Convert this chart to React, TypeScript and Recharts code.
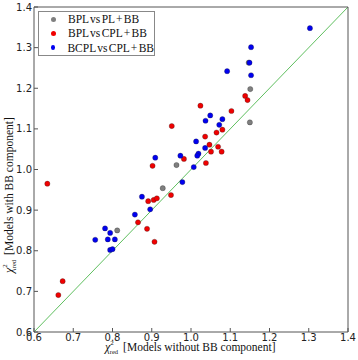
import React from "react";
import { ScatterChart, Scatter, XAxis, YAxis, ReferenceLine } from "recharts";

// axis ticks (same on both axes)
const TICKS = [0.6, 0.7, 0.8, 0.9, 1.0, 1.1, 1.2, 1.3, 1.4];
const DIAGONAL = [0.6, 1.4];

// chi2_red without BB (x) vs with BB (y)
const bplPl = [
  { x: 1.147, y: 1.263 },
  { x: 1.151, y: 1.198 },
  { x: 1.150, y: 1.116 },
  { x: 0.963, y: 1.011 },
  { x: 0.928, y: 0.954 },
  { x: 0.812, y: 0.850 },
];

const bplCpl = [
  { x: 1.138, y: 1.181 },
  { x: 1.144, y: 1.171 },
  { x: 1.024, y: 1.157 },
  { x: 1.103, y: 1.144 },
  { x: 0.951, y: 1.107 },
  { x: 1.080, y: 1.098 },
  { x: 1.065, y: 1.091 },
  { x: 1.036, y: 1.081 },
  { x: 1.047, y: 1.061 },
  { x: 1.069, y: 1.056 },
  { x: 1.051, y: 1.044 },
  { x: 1.078, y: 1.044 },
  { x: 0.982, y: 1.026 },
  { x: 0.902, y: 1.009 },
  { x: 1.038, y: 1.016 },
  { x: 0.949, y: 0.937 },
  { x: 0.905, y: 0.925 },
  { x: 0.913, y: 0.929 },
  { x: 0.891, y: 0.922 },
  { x: 0.865, y: 0.870 },
  { x: 0.888, y: 0.854 },
  { x: 0.907, y: 0.822 },
  { x: 0.634, y: 0.965 },
  { x: 0.673, y: 0.725 },
  { x: 0.662, y: 0.691 },
];

const bcplCpl = [
  { x: 1.303, y: 1.348 },
  { x: 1.153, y: 1.301 },
  { x: 1.149, y: 1.263 },
  { x: 1.092, y: 1.242 },
  { x: 1.153, y: 1.232 },
  { x: 1.049, y: 1.133 },
  { x: 1.037, y: 1.120 },
  { x: 1.080, y: 1.124 },
  { x: 1.072, y: 1.110 },
  { x: 1.013, y: 1.069 },
  { x: 1.036, y: 1.053 },
  { x: 1.019, y: 1.039 },
  { x: 1.016, y: 1.034 },
  { x: 0.973, y: 1.034 },
  { x: 0.909, y: 1.029 },
  { x: 1.007, y: 1.006 },
  { x: 0.978, y: 0.969 },
  { x: 0.875, y: 0.933 },
  { x: 0.896, y: 0.902 },
  { x: 0.857, y: 0.889 },
  { x: 0.781, y: 0.855 },
  { x: 0.794, y: 0.844 },
  { x: 0.756, y: 0.827 },
  { x: 0.788, y: 0.828 },
  { x: 0.806, y: 0.828 },
  { x: 0.794, y: 0.802 },
  { x: 0.800, y: 0.804 },
];

const SERIES = [
  { name: "BPL vs PL + BB", data: bplPl, color: "#7f7f7f" },
  { name: "BPL vs CPL + BB", data: bplCpl, color: "#f00000" },
  { name: "BCPL vs CPL + BB", data: bcplCpl, color: "#0000f0" },
];

const SERIF = "'Liberation Serif', 'DejaVu Serif', serif";
const SANS = "'DejaVu Sans', sans-serif";
const FRAME = "#555";

const dot = (color: string) => (props: any) => (
  <circle cx={props.cx} cy={props.cy} r={2.6} fill={color} stroke="#222" strokeWidth={0.3} />
);

// chi^2_red followed by the bracketed text
function ChiLabel({ text }: { text: string }) {
  return (
    <>
      <tspan fontStyle="italic" fontSize={12}>χ</tspan>
      <tspan dy={-6} fontSize={7}>2</tspan>
      <tspan dx={-4} dy={9} fontSize={6.5}>red</tspan>
      <tspan dx={5} dy={-3} fontSize={11.5}>{text}</tspan>
    </>
  );
}

export default function App() {
  const tickStyle = { fontSize: 10, fill: "#222", fontFamily: SANS };
  return (
    <div style={{ position: "absolute", left: 0, top: 0, width: 358, height: 360, background: "#fff" }}>
      <ScatterChart width={358} height={360} margin={{ top: 6, right: 9, bottom: 0, left: 0 }}>
        <XAxis
          xAxisId="b" type="number" dataKey="x" domain={[0.6, 1.4]} ticks={TICKS}
          tickFormatter={(v: number) => v.toFixed(1)} allowDataOverflow
          height={28} tickSize={-4} tickMargin={6}
          axisLine={{ stroke: FRAME }} tickLine={{ stroke: FRAME }} tick={tickStyle}
          label={{
            position: "insideBottom",
            content: ({ viewBox }: any) => (
              <text x={viewBox.x + viewBox.width / 2 - 86} y={viewBox.y + 19} fontFamily={SERIF} fill="#111">
                <ChiLabel text="[Models without BB component]" />
              </text>
            ),
          }}
        />
        <XAxis
          xAxisId="t" orientation="top" type="number" domain={[0.6, 1.4]} ticks={TICKS}
          allowDataOverflow height={1} tickSize={-4} tick={false}
          axisLine={{ stroke: FRAME }} tickLine={{ stroke: FRAME }}
        />
        <YAxis
          yAxisId="l" type="number" dataKey="y" domain={[0.6, 1.4]} ticks={TICKS}
          tickFormatter={(v: number) => v.toFixed(1)} allowDataOverflow
          width={34} tickSize={-4} tickMargin={6}
          axisLine={{ stroke: FRAME }} tickLine={{ stroke: FRAME }} tick={tickStyle}
          label={{
            position: "insideLeft",
            content: () => (
              <text x={0} y={0} transform="translate(12.5,273) rotate(-90)" fontFamily={SERIF} fill="#111">
                <ChiLabel text="[Models with BB component]" />
              </text>
            ),
          }}
        />
        <YAxis
          yAxisId="r" orientation="right" type="number" domain={[0.6, 1.4]} ticks={TICKS}
          allowDataOverflow width={1} tickSize={-4} tick={false}
          axisLine={{ stroke: FRAME }} tickLine={{ stroke: FRAME }}
        />
        <ReferenceLine
          xAxisId="b" yAxisId="l"
          segment={[{ x: DIAGONAL[0], y: DIAGONAL[0] }, { x: DIAGONAL[1], y: DIAGONAL[1] }]}
          stroke="#5fbf5f" strokeWidth={1}
        />
        {SERIES.map(s => (
          <Scatter
            key={s.name} name={s.name} data={s.data} xAxisId="b" yAxisId="l"
            fill={s.color} shape={dot(s.color)} isAnimationActive={false}
          />
        ))}
      </ScatterChart>

      {/* legend box, upper left */}
      <div
        style={{
          position: "absolute", left: 38, top: 11, width: 117, height: 45,
          border: "1px solid #888", background: "#fff", boxSizing: "border-box",
          fontFamily: SERIF, fontSize: 11.5, color: "#111",
        }}
      >
        {SERIES.map(s => (
          <div key={s.name} style={{ height: 14.3, display: "flex", alignItems: "center" }}>
            <span
              style={{
                display: "inline-block", width: 5, height: 5, borderRadius: "50%",
                background: s.color, marginLeft: 12, marginRight: 12,
              }}
            />
            <span style={{ wordSpacing: -1.5, whiteSpace: "nowrap" }}>{s.name}</span>
          </div>
        ))}
      </div>
    </div>
  );
}
